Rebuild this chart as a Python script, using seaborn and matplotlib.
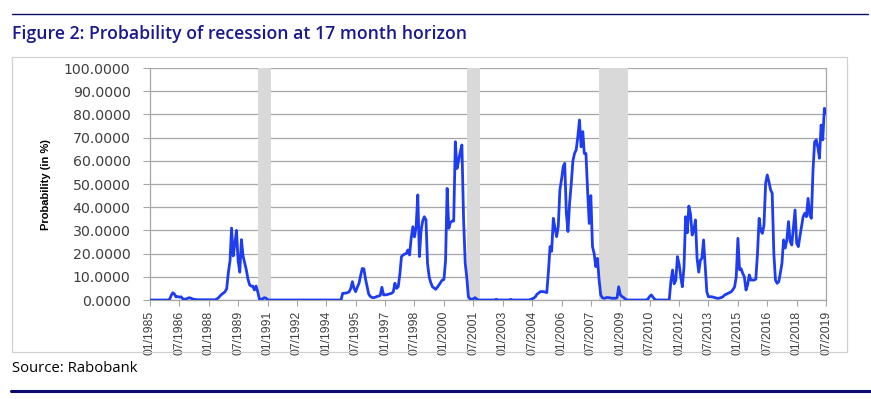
import numpy as np
import pandas as pd
import matplotlib
matplotlib.use("Agg")
import matplotlib.pyplot as plt
from matplotlib import font_manager
import seaborn as sns
from matplotlib.patches import Rectangle
from matplotlib.lines import Line2D

# monthly recession probability (%), Jan 1985 .. Jul 2019, one row per year
prob_by_year = [
    [0, 0, 0, 0, 0, 0, 0, 0, 0, 0, 0, 0],                                   # 1985
    [0.3, 2.0, 3.1, 2.6, 1.3, 1.5, 1.2, 1.4, 0.6, 0.3, 0.4, 0.7],           # 1986
    [1.0, 0.8, 0.5, 0.3, 0.2, 0.1, 0.1, 0.1, 0.1, 0.1, 0.1, 0.1],           # 1987
    [0.1, 0.1, 0.1, 0.1, 0.1, 0.5, 1.0, 1.8, 2.5, 3.0, 3.6, 5.0],           # 1988
    [12, 17, 31, 19, 24, 30, 17, 12, 26, 19, 16, 13],                       # 1989
    [9, 6.5, 6, 6, 4.3, 6, 3.6, 0.5, 0.3, 0.5, 1.0, 0.8],                   # 1990
    [0.2, 0, 0, 0, 0, 0, 0, 0, 0, 0, 0, 0],                                 # 1991
    [0, 0, 0, 0, 0, 0, 0, 0, 0, 0, 0, 0],                                   # 1992
    [0, 0, 0, 0, 0, 0, 0, 0, 0, 0, 0, 0],                                   # 1993
    [0, 0, 0, 0, 0, 0, 0, 0, 0, 0, 2.9, 2.9],                               # 1994
    [3.0, 3.2, 3.5, 5, 7.9, 5, 3.6, 5.5, 7.2, 10.5, 13.6, 13.4],            # 1995
    [9, 5.7, 2.5, 1.5, 1.1, 1.0, 1.2, 1.5, 1.7, 2.0, 5.5, 2.2],             # 1996
    [2.2, 2.3, 2.5, 2.7, 2.9, 3.5, 7.2, 5, 5.7, 11, 18.7, 19.4],            # 1997
    [19.8, 20.1, 21.6, 19.4, 26.6, 31.6, 27.2, 31.6, 45.3, 18.7, 30, 34],   # 1998
    [35.9, 34.5, 15.8, 10, 7.5, 5.7, 5.2, 4.6, 5.5, 6.5, 7.5, 8.6],         # 1999
    [8.8, 17.2, 48.1, 30.9, 33.4, 34, 34, 68.2, 56.7, 60, 63.9, 66.8],      # 2000
    [35, 15.8, 10, 1.4, 0.5, 0.3, 0.5, 1.0, 0.5, 0, 0, 0],                  # 2001
    [0, 0, 0, 0, 0, 0, 0, 0, 0.3, 0, 0, 0],                                 # 2002
    [0, 0, 0, 0, 0, 0.3, 0, 0, 0, 0, 0, 0],                                 # 2003
    [0, 0, 0, 0, 0, 0.2, 0.5, 0.8, 1.4, 2.5, 3.0, 3.6],                     # 2004
    [3.6, 3.6, 3.4, 3.2, 12, 23, 21, 35.2, 31, 27.3, 31.6, 47.4],           # 2005
    [52, 57.5, 58.9, 37.4, 29.5, 42, 50, 60, 63.2, 64.7, 70.4, 77.6],       # 2006
    [66, 72.6, 63.2, 63.2, 47.4, 33, 45, 23, 20, 14.4, 18, 9],              # 2007
    [2.2, 1.0, 0.7, 0.9, 1.1, 1.0, 0.9, 0.7, 0.8, 0.7, 1.0, 5.7],           # 2008
    [2.2, 1.5, 1.1, 0.5, 0, 0, 0, 0, 0, 0, 0, 0],                           # 2009
    [0, 0, 0, 0, 0, 0.5, 1.5, 2.2, 1.2, 0.4, 0, 0],                         # 2010
    [0, 0, 0, 0, 0, 0, 0, 8, 12.9, 7, 8.5, 18.7],                           # 2011
    [15.5, 10, 5.7, 14, 35.9, 29, 40.5, 37, 28, 30, 34.5, 18],              # 2012
    [12, 17.2, 18, 25.9, 15, 3.5, 1.4, 1.4, 1.4, 1.2, 1.0, 0.8],            # 2013
    [0.7, 0.9, 1.1, 1.5, 2.2, 2.5, 2.9, 3.2, 3.6, 4.5, 5.7, 10],            # 2014
    [26.6, 13, 13.5, 11.5, 10, 4.3, 6.5, 10.8, 8.6, 8.6, 8.6, 9],           # 2015
    [20, 35.2, 30, 28.7, 32.3, 50.3, 53.9, 51, 47.5, 46, 20, 8.6],          # 2016
    [7.2, 7.9, 11.5, 15.8, 25.9, 22.4, 25.9, 33.8, 25.2, 23.7, 31.6, 38.8], # 2017
    [24.4, 23, 27.3, 31.6, 35.9, 37.4, 35.9, 43.8, 36.6, 35.2, 56, 68.2],   # 2018
    [69, 65.6, 61.1, 75.4, 69, 82.6, 80.5],                                 # 2019
]
recession_start = ["1990-07-01", "2001-03-01", "2007-12-01"]
recession_end = ["1991-03-01", "2001-11-01", "2009-06-01"]

title = "Figure 2: Probability of recession at 17 month horizon"
source = "Source: Rabobank"
ylabel = "Probability (in %)"

prob = [v for row in prob_by_year for v in row]
df = pd.DataFrame({
    "date": pd.date_range("1985-01-01", periods=len(prob), freq="MS"),
    "prob": prob,
})

sns.set_style("white")
plt.rcParams["font.family"] = ["DejaVu Sans"]

# narrow font for the rotated labels, if there is one
installed = {f.name for f in font_manager.fontManager.ttflist}
if "Liberation Sans Narrow" in installed:
    narrow, xt_size, yl_size = "Liberation Sans Narrow", 10.8, 9.8
else:
    narrow, xt_size, yl_size = "Liberation Sans", 8.8, 8.0

fig = plt.figure(figsize=(8.71, 3.99), dpi=100)
ax = fig.add_axes([150 / 871, 99 / 399, 676 / 871, 232 / 399])

for s, e in zip(recession_start, recession_end):
    ax.axvspan(pd.Timestamp(s), pd.Timestamp(e), color="#d9d9d9", lw=0, zorder=2)

sns.lineplot(data=df, x="date", y="prob", ax=ax, color="#1e3cf0", lw=2.0, zorder=3)

ticks = pd.date_range("1985-01-01", "2019-07-01", freq="18MS")
ax.set_xticks(ticks)
ax.set_xticklabels([d.strftime("%m/%Y") for d in ticks], rotation=90,
                   fontsize=xt_size, color="#404040", family=narrow)
ax.set_xlim(ticks[0], ticks[-1])
ax.set_ylim(0, 100)
ax.set_yticks(np.arange(0, 101, 10))
ax.set_yticklabels([f"{v:.4f}" for v in np.arange(0, 101, 10)], fontsize=10.2, color="#404040")
ax.yaxis.grid(True, color="#a6a6a6", lw=0.9, zorder=1)
ax.set_axisbelow(True)
ax.tick_params(axis="x", length=4, width=0.8, color="#a6a6a6", pad=4, bottom=True)
ax.tick_params(axis="y", length=5, width=0.8, color="#a6a6a6", pad=9, left=True)
for sp in ["left", "bottom", "right"]:
    ax.spines[sp].set_color("#a6a6a6")
    ax.spines[sp].set_linewidth(0.9)
ax.spines["top"].set_visible(False)
ax.set_xlabel("")
ax.set_ylabel("")

fig.text(46 / 871, 1 - 185 / 399, ylabel, rotation=90, ha="center", va="center",
         fontsize=yl_size, fontweight="bold", family=narrow, color="#000000")

# chart frame, rules, title, source
fig.patches.append(Rectangle((12 / 871, 1 - 352 / 399), 835 / 871, 295 / 399,
                             transform=fig.transFigure, fill=False, ec="#d0d0d0", lw=0.9))
fig.lines.append(Line2D([12 / 871, 868 / 871], [1 - 14 / 399] * 2, transform=fig.transFigure,
                        color="#0b0b6e", lw=1.0))
fig.lines.append(Line2D([11 / 871, 1.0], [1 - 391 / 399] * 2, transform=fig.transFigure,
                        color="#0b0b6e", lw=2.2))
fig.text(12 / 871, 1 - 34 / 399, title, ha="left", va="center", fontsize=12.7,
         fontweight="semibold", family="Open Sans", color="#1a1a8c")
fig.text(12 / 871, 1 - 369 / 399, source, ha="left", va="center", fontsize=10.7,
         family="Open Sans", color="#000000")

fig.savefig("out.png", dpi=100)
